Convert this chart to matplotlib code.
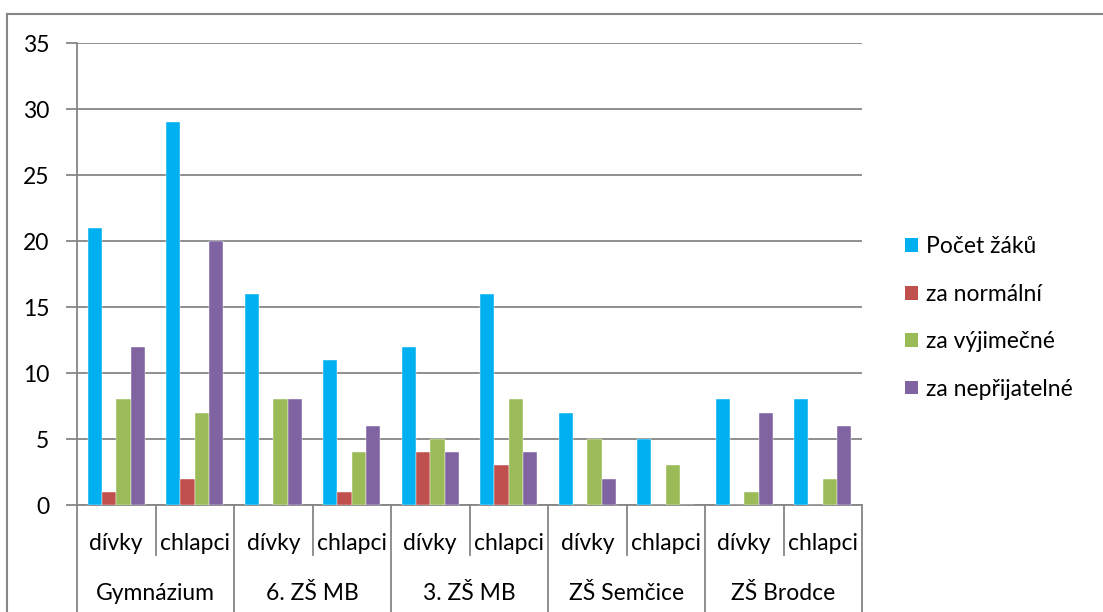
import matplotlib
matplotlib.use("Agg")
import matplotlib.pyplot as plt
import matplotlib.transforms as mtransforms
from matplotlib.lines import Line2D
from matplotlib.patches import Patch
import numpy as np

plt.rcParams['font.family'] = ['Lato', 'DejaVu Sans']

groups = ["Gymnázium", "6. ZŠ MB", "3. ZŠ MB", "ZŠ Semčice", "ZŠ Brodce"]
subcats = ["dívky", "chlapci"]
series_names = ["Počet žáků", "za normální", "za výjimečné", "za nepřijatelné"]
pocet_zaku = [21, 29, 16, 11, 12, 16, 7, 5, 8, 8]
za_normalni = [1, 2, 0, 1, 4, 3, 0, 0, 0, 0]
za_vyjimecne = [8, 7, 8, 4, 5, 8, 5, 3, 1, 2]
za_neprijatelne = [12, 20, 8, 6, 4, 4, 2, 0, 7, 6]
colors = ["#00B0F0", "#C0504D", "#9BBB59", "#8064A2"]
yticks = [0, 5, 10, 15, 20, 25, 30, 35]

FS = 16.5
W, H = 1103, 612
fig = plt.figure(figsize=(W / 100, H / 100), dpi=100)
ax = fig.add_axes([77 / W, 1 - 505 / H, (862 - 77) / W, (505 - 43) / H])

grey = "#868686"
series = [pocet_zaku, za_normalni, za_vyjimecne, za_neprijatelne]
n = len(pocet_zaku)
x = np.arange(n)
bw = 0.182
for j, (vals, c, name) in enumerate(zip(series, colors, series_names)):
    ax.bar(x + (j - 1.5) * bw, vals, width=bw, color=c, label=name,
           edgecolor="white", linewidth=0.3, zorder=3)

ax.set_xlim(-0.5, n - 0.5)
ax.set_ylim(0, 35)
ax.set_yticks(yticks)
ax.set_yticklabels([str(v) for v in yticks])
ax.yaxis.grid(True, color=grey, linewidth=1.3, zorder=0)
ax.tick_params(axis='y', length=8, width=1.3, color=grey, labelsize=FS, pad=12)
ax.set_xticks([])
for s in ["top", "right"]:
    ax.spines[s].set_visible(False)
ax.spines["left"].set_color(grey)
ax.spines["left"].set_linewidth(1.3)
ax.spines["bottom"].set_color(grey)
ax.spines["bottom"].set_linewidth(1.3)

trans = mtransforms.blended_transform_factory(ax.transData, ax.transAxes)
sub_bottom = (505 - 555) / 462
full_bottom = (505 - 620) / 462
for k in range(n + 1):
    xb = k - 0.5
    yb = full_bottom if k % 2 == 0 else sub_bottom
    ax.add_line(Line2D([xb, xb], [0, yb], transform=trans, color=grey,
                       linewidth=1.3, clip_on=False))
for i in range(n):
    ax.text(i, (505 - 543) / 462, subcats[i % 2], transform=trans,
            ha="center", va="center", fontsize=FS)
for g, name in enumerate(groups):
    ax.text(2 * g + 0.5, (505 - 593) / 462, name, transform=trans,
            ha="center", va="center", fontsize=FS)

# outer chart border
fig.add_artist(Line2D([7 / W, 7 / W], [0, 1 - 14 / H], transform=fig.transFigure,
                      color=grey, linewidth=1.5))
fig.add_artist(Line2D([7 / W, 1], [1 - 14 / H, 1 - 14 / H], transform=fig.transFigure,
                      color=grey, linewidth=1.5))

handles = [Patch(facecolor=c, edgecolor="none") for c in colors]
fig.legend(handles, series_names, loc="center left",
           bbox_to_anchor=(905 / W, 1 - 318 / H), frameon=False,
           fontsize=FS, handlelength=0.55, handleheight=0.55,
           handletextpad=0.35, labelspacing=1.15, borderpad=0, borderaxespad=0)

fig.savefig("out.png", dpi=100)
